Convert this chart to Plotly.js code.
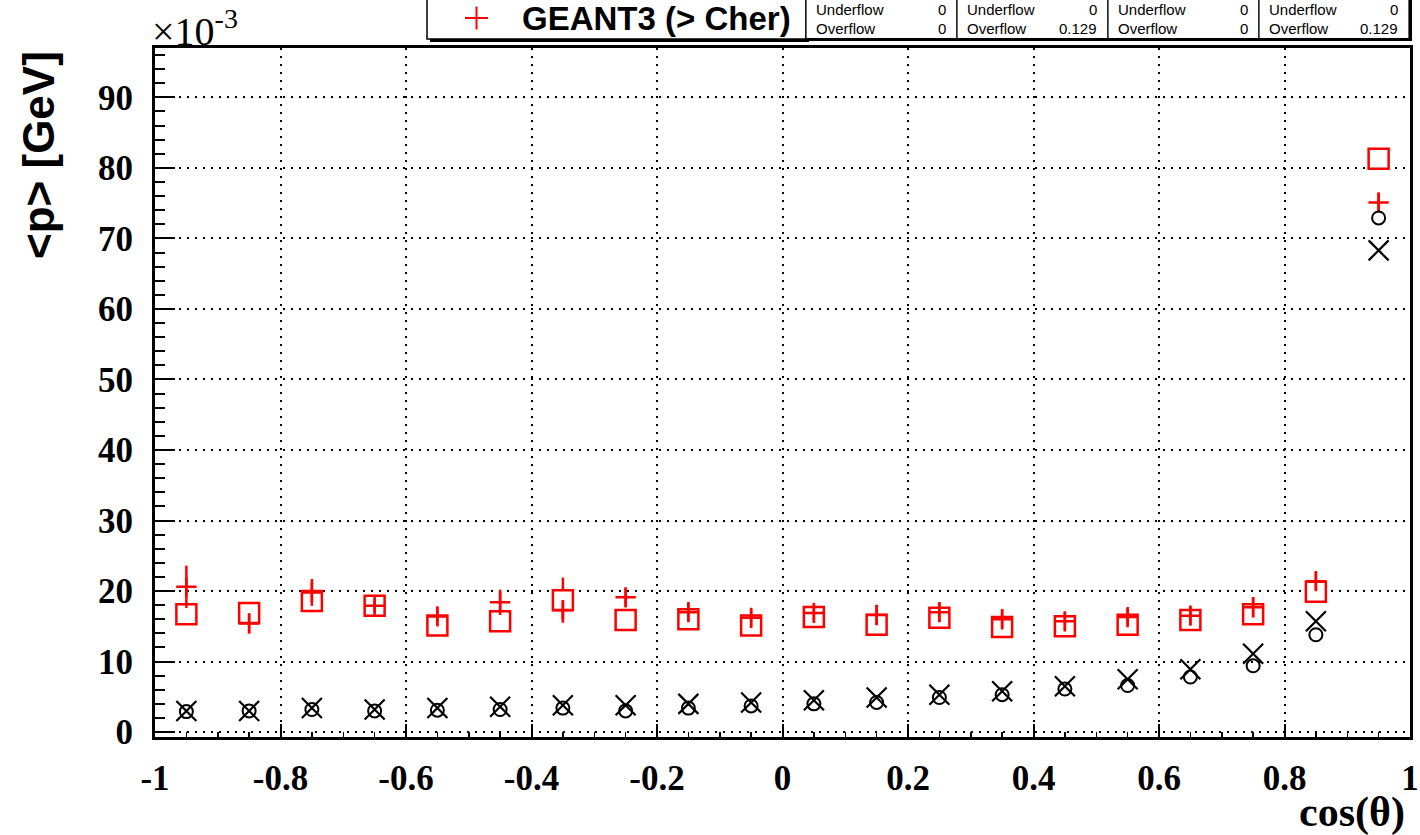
<!DOCTYPE html>
<html>
<head>
<meta charset="utf-8">
<script src="https://cdn.plot.ly/plotly-3.0.1.min.js"></script>
<style>html,body{margin:0;padding:0;background:#fff;}#chart{width:1420px;height:835px;}</style>
</head>
<body>
<div id="chart"></div>
<script>
// ---- data (values in units of 1e-3 GeV) ----
const cosTheta = [-0.95,-0.85,-0.75,-0.65,-0.55,-0.45,-0.35,-0.25,-0.15,-0.05,0.05,0.15,0.25,0.35,0.45,0.55,0.65,0.75,0.85,0.95];
const redSquares = [16.7,16.9,18.6,17.9,15.1,15.7,18.7,15.9,16.0,15.1,16.3,15.2,16.2,14.9,15.0,15.2,15.9,16.7,19.9,81.3];
const redSquaresErr = [1.2,1.2,1.6,1.2,1.2,1.2,3.2,1.2,1.2,1.2,1.2,1.2,1.2,1.2,1.2,1.2,1.2,1.2,1.2,1.2];
const geant3Cher = [20.6,15.4,19.8,17.9,16.4,18.4,17.3,19.1,17.0,16.2,16.9,16.6,17.0,16.0,15.7,16.3,16.5,17.7,21.4,75.1];
const geant3CherErr = [3.0,1.4,1.9,1.0,1.3,1.8,1.3,1.35,1.3,1.3,1.2,1.4,1.35,1.25,1.3,1.3,1.3,1.4,1.3,1.3];
const blackCircles = [2.9,3.0,3.2,3.0,3.1,3.2,3.4,3.0,3.4,3.7,4.0,4.2,4.9,5.3,6.1,6.6,7.8,9.4,13.8,72.9];
const blackCrosses = [3.0,3.0,3.4,3.2,3.4,3.6,3.8,3.8,4.0,4.2,4.5,4.9,5.3,5.8,6.5,7.5,8.9,11.1,15.7,68.3];
const xTickVals = [-1,-0.8,-0.6,-0.4,-0.2,0,0.2,0.4,0.6,0.8,1];
const xTickText = ['-1','-0.8','-0.6','-0.4','-0.2','0','0.2','0.4','0.6','0.8','1'];
const yTickVals = [0,10,20,30,40,50,60,70,80,90];
const yTickText = ['0','10','20','30','40','50','60','70','80','90'];
const legendLabel = 'GEANT3 (&gt; Cher)';
const statUnder = ['0','0','0','0'];
const statOver = ['0','0.129','0','0.129'];

// ---- layout geometry (pixels) ----
const W = 1420, H = 835;
const L = 155, R = 1410, T = 48, B = 737;
const px2x = p => (p - L) / (R - L);
const px2y = p => (B - p) / (B - T);

const serifBold = {family: 'Liberation Serif, Times New Roman, serif', color: '#000', weight: 'bold'};
const sansBold = {family: 'Liberation Sans, Arial, sans-serif', color: '#000', weight: 'bold'};

const traces = [
  {x: cosTheta, y: redSquares, type: 'scatter', mode: 'markers', name: 'squares',
   marker: {symbol: 'square', size: 20, color: '#ffffff', line: {color: '#ff0000', width: 2.5}},
   error_y: {type: 'data', array: redSquaresErr, visible: true, color: '#ff0000', thickness: 2.5, width: 0}},
  {x: cosTheta, y: geant3Cher, type: 'scatter', mode: 'markers', name: 'GEANT3 (> Cher)',
   marker: {symbol: 'cross-thin-open', size: 14.5, color: '#ff0000', line: {color: '#ff0000', width: 2.5}},
   error_y: {type: 'data', array: geant3CherErr, visible: true, color: '#ff0000', thickness: 2.5, width: 0}},
  {x: cosTheta, y: blackCircles, type: 'scatter', mode: 'markers', name: 'circles',
   marker: {symbol: 'circle-open', size: 13, color: '#000', line: {color: '#000', width: 2}}},
  {x: cosTheta, y: blackCrosses, type: 'scatter', mode: 'markers', name: 'crosses',
   marker: {symbol: 'x-thin-open', size: 20, color: '#000', line: {color: '#000', width: 2.2}}}
];

const shapes = [];
const annotations = [];
function rect(x0, y0, x1, y1, fill, lw) {
  shapes.push({type: 'rect', xref: 'paper', yref: 'paper', x0: px2x(x0), x1: px2x(x1), y0: px2y(y1), y1: px2y(y0),
    fillcolor: fill, line: {color: '#000', width: lw}, layer: 'above'});
}
function line(x0, y0, x1, y1, color, lw) {
  shapes.push({type: 'line', xref: 'paper', yref: 'paper', x0: px2x(x0), x1: px2x(x1), y0: px2y(y0), y1: px2y(y1),
    line: {color: color, width: lw}, layer: 'above'});
}
function text(t, x, y, xa, ya, font, extra) {
  annotations.push(Object.assign({text: t, xref: 'paper', yref: 'paper', x: px2x(x), y: px2y(y),
    xanchor: xa, yanchor: ya, showarrow: false, font: font}, extra || {}));
}

// legend pave with shadow
rect(430, -6, 809, 42, '#000', 0);
rect(427, -10, 806, 39, '#fff', 1.5);
line(465, 18, 488, 18, '#ff0000', 2);
line(476.5, 6.5, 476.5, 29.5, '#ff0000', 2);
text(legendLabel, 520, 19, 'left', 'middle', Object.assign({}, sansBold, {size: 33}));

// statistics boxes
const statEdges = [806, 957, 1108, 1259, 1409];
rect(809, -6, 1412, 41, '#000', 0);
for (let i = 0; i < 4; i++) {
  const a = statEdges[i], b = statEdges[i + 1];
  rect(a, -10, b, 38.5, '#fff', 1.2);
  const f = {family: 'Liberation Sans, Arial, sans-serif', color: '#000', size: 15};
  text('Underflow', a + 8, 9.5, 'left', 'middle', f);
  text('Overflow', a + 8, 28.5, 'left', 'middle', f);
  text(statUnder[i], b - 9, 9.5, 'right', 'middle', f);
  text(statOver[i], b - 9, 28.5, 'right', 'middle', f);
}

// axis titles and exponent
text('&lt;p&gt; [GeV]', 38, 155, 'center', 'middle', Object.assign({}, sansBold, {size: 44}), {textangle: -90});
text('×10<sup>-3</sup>', 150, 56, 'left', 'bottom', {family: 'Liberation Serif, Times New Roman, serif', color: '#000', size: 40});
text('cos(θ)', 1407, 812, 'right', 'middle', Object.assign({}, serifBold, {size: 42}));

const layout = {
  width: W, height: H,
  margin: {l: L, r: W - R, t: T, b: H - B, pad: 0},
  paper_bgcolor: '#fff', plot_bgcolor: '#fff',
  showlegend: false,
  xaxis: {
    range: [-1, 1], tickmode: 'array', tickvals: xTickVals, ticktext: xTickText,
    ticks: 'inside', ticklen: 13, tickwidth: 2, tickcolor: '#000',
    minor: {tickmode: 'linear', tick0: -1, dtick: 0.05, ticks: 'inside', ticklen: 5, tickwidth: 1.5, tickcolor: '#000', showgrid: false},
    showgrid: true, gridcolor: '#000', gridwidth: 2, griddash: '2px,6px',
    zeroline: false, showline: true, linecolor: '#000', linewidth: 3, mirror: true,
    tickfont: Object.assign({}, serifBold, {size: 35}), ticklabelstandoff: 8
  },
  yaxis: {
    range: [-0.7, 97.0], tickmode: 'array', tickvals: yTickVals, ticktext: yTickText,
    ticks: 'inside', ticklen: 20, tickwidth: 2, tickcolor: '#000',
    minor: {tickmode: 'linear', tick0: 0, dtick: 2, ticks: 'inside', ticklen: 10, tickwidth: 2, tickcolor: '#000', showgrid: false},
    showgrid: true, gridcolor: '#000', gridwidth: 2, griddash: '2px,6px',
    zeroline: false, showline: true, linecolor: '#000', linewidth: 3, mirror: true,
    tickfont: Object.assign({}, serifBold, {size: 35}), ticklabelstandoff: 12
  },
  shapes: shapes,
  annotations: annotations
};

Plotly.newPlot('chart', traces, layout, {displayModeBar: false, staticPlot: true});
</script>
</body>
</html>
